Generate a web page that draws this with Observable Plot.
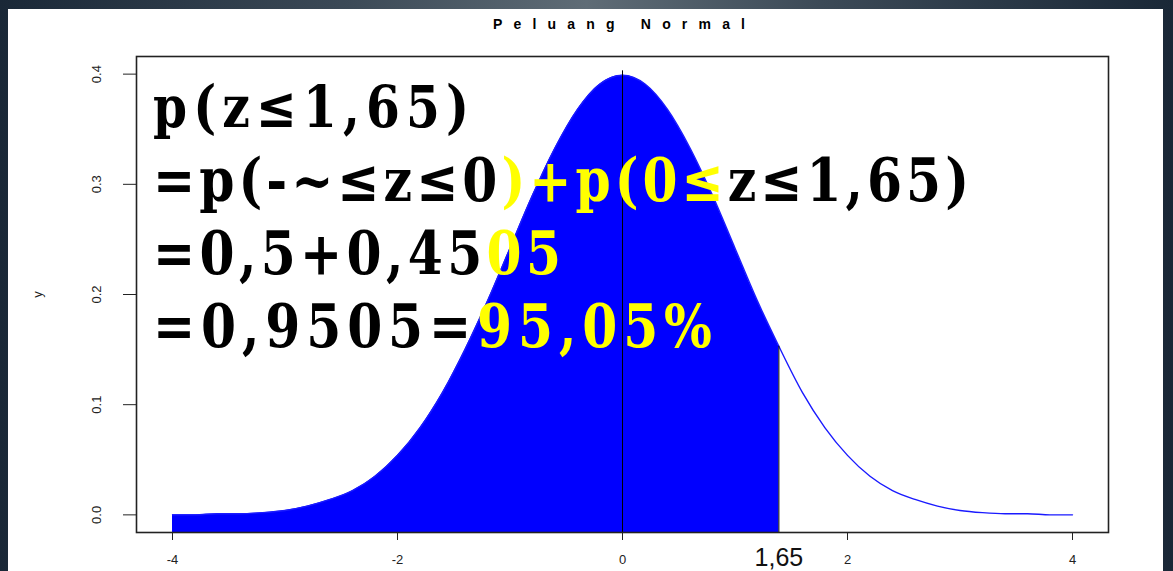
<!DOCTYPE html>
<html><head><meta charset="utf-8">
<script src="https://cdn.jsdelivr.net/npm/d3@7"></script>
<script src="https://cdn.jsdelivr.net/npm/@observablehq/plot@0.6"></script>
<style>
html,body{margin:0;padding:0;width:1173px;height:571px;overflow:hidden;}
body{background:linear-gradient(to right,#1a2837 0%,#3c4a57 30%,#5f6c76 50%,#3c4a57 70%,#1a2837 100%);position:relative;}
#sheet{position:absolute;left:8px;top:9px;width:1155px;height:562px;background:#fff;}
#chart{position:absolute;left:0;top:0;}
#overlay{position:absolute;left:0;top:0;pointer-events:none;}
</style></head><body>
<div id="sheet"></div>
<div id="chart"></div>
<svg id="overlay" width="1173" height="571"></svg>
<script>
// ---- data ----
const title = "Peluang Normal";
const yLabel = "y";
const xs = [-4,-3.8,-3.6,-3.4,-3.2,-3,-2.8,-2.6,-2.4,-2.2,-2,-1.8,-1.6,-1.4,-1.2,-1,-0.8,-0.6,-0.4,-0.2,0,0.2,0.4,0.6,0.8,1,1.2,1.39,1.6,1.8,2,2.2,2.4,2.6,2.8,3,3.2,3.4,3.6,3.8,4];
const ys = [0.000,0.000,0.001,0.001,0.002,0.004,0.008,0.014,0.022,0.035,0.054,0.079,0.111,0.150,0.194,0.242,0.290,0.333,0.368,0.391,0.399,0.391,0.368,0.333,0.290,0.242,0.194,0.153,0.111,0.079,0.054,0.035,0.022,0.014,0.008,0.004,0.002,0.001,0.001,0.000,0.000];
const fillEnd = 1.39;
const xTicks = [-4,-2,0,2,4];
const yTicks = [0,0.1,0.2,0.3,0.4];
const xDomain = [-4.32, 4.32];
const yDomain = [-0.016, 0.416];
const ruleXs = [0, 1.39];
const ruleTops = [0.403, 0.153];
const markLabel = "1,65";
const textLines = [
  [["p(z≤1,65)", "#000"]],
  [["=p(-~≤z≤0", "#000"], [")+p(0≤", "#ffff00"], ["z≤1,65)", "#000"]],
  [["=0,5+0,45", "#000"], ["05", "#ffff00"]],
  [["=0,9505=", "#000"], ["95,05%", "#ffff00"]]
];

// ---- build ----
const curve = xs.map((x, i) => ({x, y: ys[i]}));
const filled = curve.filter(d => d.x <= fillEnd);
const rules = ruleXs.map((x, i) => ({x, top: ruleTops[i]}));
const yLow = yDomain[0];

const chart = Plot.plot({
  width: 1173, height: 571,
  marginLeft: 136, marginRight: 65, marginTop: 56, marginBottom: 39,
  x: {domain: xDomain},
  y: {domain: yDomain},
  style: {background: "transparent", fontFamily: "Liberation Sans, Arial, sans-serif", fontSize: "13px", color: "#222"},
  marks: [
    Plot.areaY(filled, {x: "x", y1: () => yLow, y2: "y", fill: "#0000ff", curve: "monotone-x"}),
    Plot.line(curve, {x: "x", y: "y", stroke: "#1a1aff", strokeWidth: 1.4, curve: "monotone-x"}),
    Plot.ruleX(rules, {x: "x", y1: () => yLow, y2: "top", stroke: "#000", strokeWidth: 1}),
    Plot.frame({stroke: "#222", strokeWidth: 1.6}),
    Plot.axisX({ticks: xTicks, tickSize: 8, tickPadding: 14, tickFormat: d => String(d), label: null, fontSize: 13}),
    Plot.axisY({ticks: yTicks, tickSize: 13, tickPadding: 23, tickRotate: -90, tickFormat: d => d.toFixed(1),
                label: yLabel, labelAnchor: "center", labelOffset: 104, labelArrow: "none", fontSize: 13}),
    Plot.text([fillEnd], {x: d => d, text: () => markLabel, frameAnchor: "bottom", lineAnchor: "bottom", dy: 33,
                          fontSize: 25, fontFamily: "Liberation Sans Narrow, Liberation Sans, sans-serif", fill: "#111"})
  ]
});
document.getElementById("chart").appendChild(chart);

// ---- overlay texts (title and slide annotations) ----
const ov = d3.select("#overlay");
ov.append("text")
  .attr("x", 493).attr("y", 28.5)
  .attr("font-family", "Liberation Sans, Arial, sans-serif")
  .attr("font-weight", "bold").attr("font-size", 14)
  .attr("textLength", 252).attr("lengthAdjust", "spacing")
  .attr("fill", "#000")
  .text(title);

const squeeze = 0.84;
const lineSpec = [
  {x: 153, y: 127, size: 58, len: 316},
  {x: 153, y: 201, size: 60, len: 816},
  {x: 153, y: 274, size: 60, len: 408},
  {x: 153, y: 347, size: 60, len: 559}
];
textLines.forEach((parts, i) => {
  const s = lineSpec[i];
  const t = ov.append("text")
    .attr("transform", `translate(${s.x},${s.y}) scale(${squeeze},1)`)
    .attr("x", 0).attr("y", 0)
    .attr("font-family", "DejaVu Serif, serif")
    .attr("font-weight", "bold").attr("font-size", s.size)
    .attr("textLength", s.len / squeeze).attr("lengthAdjust", "spacing");
  parts.forEach(([str, col]) => t.append("tspan").attr("fill", col).text(str));
});
</script>
</body></html>
